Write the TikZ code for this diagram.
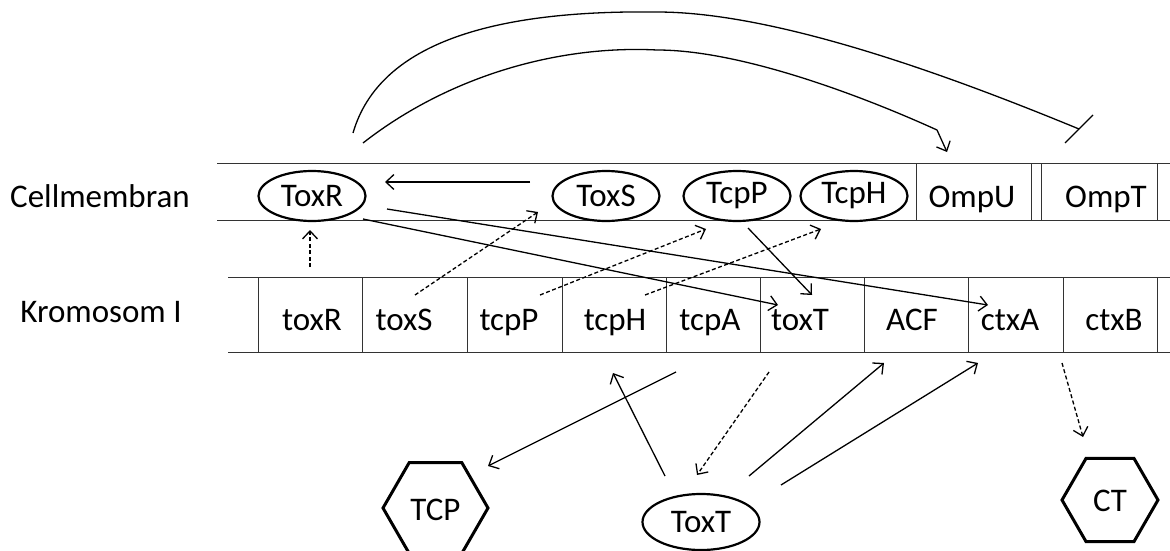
\documentclass[tikz,border=0pt]{standalone}
\usepackage{fontspec}
\setmainfont{Carlito}
\usetikzlibrary{arrows.meta,shapes.geometric}
\begin{document}
\begin{tikzpicture}[x=1pt,y=-1pt,
  every node/.style={font=\fontsize{33}{38}\selectfont, inner sep=0pt, outer sep=0pt},
  thinl/.style={line width=0.9pt, black!80},
  conn/.style={line width=1.3pt, -{Straight Barb[length=8pt,width=15pt,line width=1.3pt]}},
  dconn/.style={conn, dash pattern=on 4pt off 2.5pt},
  plain/.style={line width=1.3pt},
  prot/.style={ellipse, draw, line width=2.2pt, minimum width=107pt, minimum height=50pt},
  hexa/.style={regular polygon, regular polygon sides=6, draw, line width=3pt},
  lbl/.style={anchor=base},
]
\useasboundingbox (0,0) rectangle (1170,551);

% membrane band
\draw[thinl] (217,163) -- (1170,163);
\draw[thinl] (217,220) -- (1170,220);
\foreach \x in {916,1031,1041,1157} \draw[thinl] (\x,163) -- (\x,220);

% chromosome band
\draw[thinl] (228,277) -- (1170,277);
\draw[thinl] (228,352) -- (1170,352);
\foreach \x in {258,362,467,562,666,760,864,968,1063,1157} \draw[thinl] (\x,277) -- (\x,352);

% row labels
\node[lbl] (lblMem) at (100,207) {Cellmembran};
\node[lbl] (lblChr) at (101,322) {Kromosom I};

% membrane proteins
\node[prot] (ToxR) at (312,196) {ToxR};
\node[prot] (ToxS) at (606,196) {ToxS};
\node[prot] (TcpP) at (737,196) {TcpP};
\node[prot] (TcpH) at (854,196) {TcpH};
\node[lbl] (OmpU) at (972,207) {OmpU};
\node[lbl] (OmpT) at (1106,207) {OmpT};

% genes
\node[lbl] (gtoxR) at (312,330) {toxR};
\node[lbl] (gtoxS) at (404,330) {toxS};
\node[lbl] (gtcpP) at (509,330) {tcpP};
\node[lbl] (gtcpH) at (615,330) {tcpH};
\node[lbl] (gtcpA) at (710,330) {tcpA};
\node[lbl] (gtoxT) at (800,330) {toxT};
\node[lbl] (gACF) at (912,330) {ACF};
\node[lbl] (gctxA) at (1010,330) {ctxA};
\node[lbl] (gctxB) at (1114,330) {ctxB};

% products
\node[hexa, minimum size=105pt] (TCP) at (435.5,508) {};
\node (TCPt) at (435.5,510) {TCP};
\node[hexa, minimum size=96pt] (CT) at (1110,500) {};
\node (CTt) at (1110,501) {CT};
\node[prot, minimum width=117pt, minimum height=56pt] (ToxTp) at (701,522) {ToxT};

% connector endpoints
\coordinate (c1s) at (310,267);  \coordinate (c1e) at (310,230);
\coordinate (c2s) at (415,295);  \coordinate (c2e) at (538,212);
\coordinate (c3s) at (540,295);  \coordinate (c3e) at (706,229);
\coordinate (c4s) at (645,295);  \coordinate (c4e) at (821,229);
\coordinate (c5s) at (530,182);  \coordinate (c5e) at (385,182);
\coordinate (c6s) at (363,219);  \coordinate (c6e) at (778,305);
\coordinate (c7s) at (387,209);  \coordinate (c7e) at (988,305);
\coordinate (c8s) at (748,228);  \coordinate (c8e) at (812,295);
\coordinate (c9s) at (676,372);  \coordinate (c9e) at (488,466);
\coordinate (c10s) at (665,476); \coordinate (c10e) at (613,373);
\coordinate (c11s) at (769,372); \coordinate (c11e) at (697,475);
\coordinate (c12s) at (749,476); \coordinate (c12e) at (884,363);
\coordinate (c13s) at (781,485); \coordinate (c13e) at (978,363);
\coordinate (c14s) at (1062,363);\coordinate (c14e) at (1083,437);
\coordinate (arcIs) at (363,143); \coordinate (arcIe) at (947,152);
\coordinate (arcOs) at (353,133); \coordinate (arcOe) at (1079,129);
\coordinate (barA) at (1065,143); \coordinate (barB) at (1093,115);

\draw[dconn] (c1s) -- (c1e);
\draw[dconn] (c2s) -- (c2e);
\draw[dconn] (c3s) -- (c3e);
\draw[dconn] (c4s) -- (c4e);
\draw[conn] (c5s) -- (c5e);
\draw[conn] (c6s) -- (c6e);
\draw[conn] (c7s) -- (c7e);
\draw[conn] (c8s) -- (c8e);
\draw[conn] (c9s) -- (c9e);
\draw[conn] (c10s) -- (c10e);
\draw[dconn] (c11s) -- (c11e);
\draw[conn] (c12s) -- (c12e);
\draw[conn] (c13s) -- (c13e);
\draw[dconn] (c14s) -- (c14e);

% arcs
\draw[conn] (arcIs) .. controls (450,75) and (560,45) .. (657,50)
  .. controls (740,50) and (860,95) .. (937,130) -- (arcIe);
\draw[plain] (arcOs) .. controls (380,40) and (500,10) .. (657,12)
  .. controls (780,12) and (960,80) .. (arcOe);
\draw[plain] (barA) -- (barB);
\end{tikzpicture}
\end{document}
